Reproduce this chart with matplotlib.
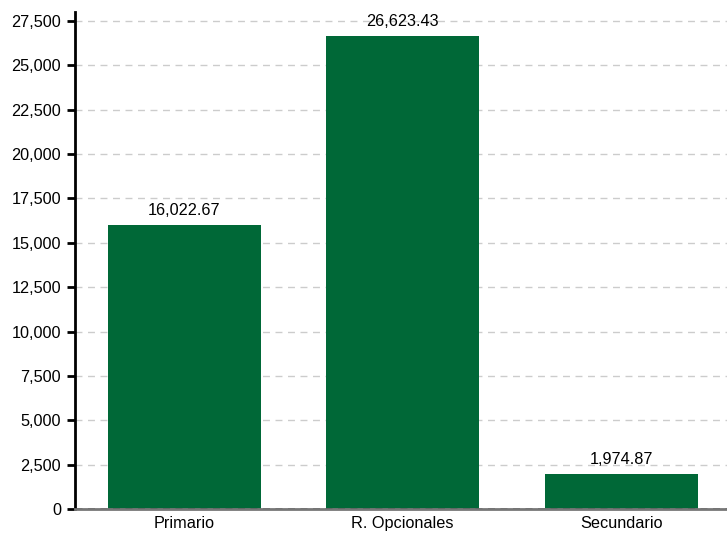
import matplotlib
matplotlib.use('Agg')
from matplotlib import pyplot as plt
from matplotlib.ticker import FuncFormatter

plt.rcParams['font.family'] = ['Liberation Sans', 'DejaVu Sans']

categories = ['Primario', 'R. Opcionales', 'Secundario']
values = [16022.67, 26623.43, 1974.87]
yticks = list(range(0, 27501, 2500))

fig = plt.figure(figsize=(7.27, 5.37), dpi=100)
ax = fig.add_axes([75 / 727, 28 / 537, 1 - 75 / 727, 1 - 40 / 537])

x = list(range(len(categories)))
bars = ax.bar(x, values, width=0.7, color='#006837', zorder=2)

# value labels on top of bars
for b, v in zip(bars, values):
    ax.annotate('{:,.2f}'.format(v), (b.get_x() + b.get_width() / 2, v),
                xytext=(0, 5), textcoords='offset points',
                ha='center', va='bottom', fontsize=11.7, color='black')

ax.set_xlim(-0.5, 2.485)
ax.set_ylim(0, 28000)
ax.set_yticks(yticks)
ax.yaxis.set_major_formatter(FuncFormatter(lambda v, p: '{:,.0f}'.format(v)))
ax.set_xticks(x)
ax.set_xticklabels(categories)

ax.grid(axis='y', color='#cccccc', linestyle=(0, (5, 4)), linewidth=1, zorder=0)

for s in ('top', 'right'):
    ax.spines[s].set_visible(False)
ax.spines['left'].set_linewidth(2)
ax.spines['left'].set_color('black')
ax.spines['bottom'].set_linewidth(2)
ax.spines['bottom'].set_color('#777777')
ax.spines['bottom'].set_zorder(3)
ax.axhline(0, color='#333333', linestyle=(0, (5, 4)), linewidth=1, zorder=4)

ax.tick_params(axis='y', length=6, width=2, color='black', labelsize=11.7, pad=4)
# a bit less padding than the original so the labels stay inside the image
ax.tick_params(axis='x', length=0, labelsize=11.7, pad=5)

fig.savefig('out.png', dpi=100)
